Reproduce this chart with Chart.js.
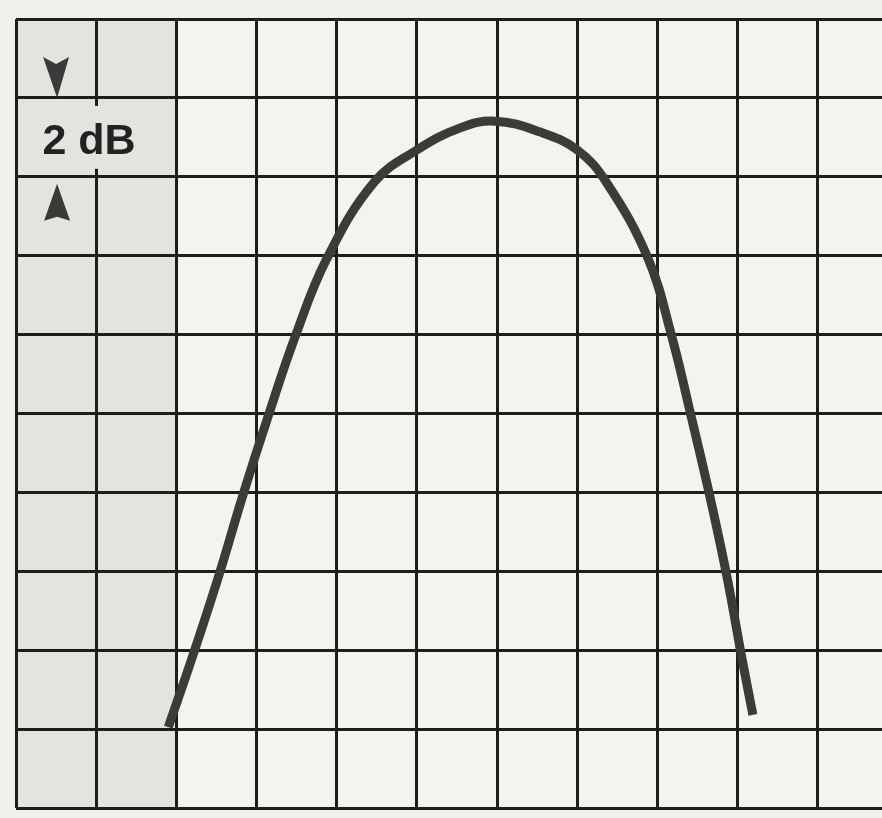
<!DOCTYPE html>
<html lang="en">
<head>
  <meta charset="UTF-8">
  <title>Response curve</title>
  <script src="https://cdn.jsdelivr.net/npm/chart.js"></script>
  <style>
    html, body { margin: 0; padding: 0; background: #f1f0ea; }
    #wrap { width: 882px; height: 818px; }
  </style>
</head>
<body>
  <div id="wrap"><canvas id="curve"></canvas></div>

  <script>
    // horizontal position in grid divisions, level in dB (2 dB per division)
    const posDiv = [1.90, 2.20, 2.52, 2.83, 3.13, 3.48, 3.88, 4.47, 5.00, 5.54, 5.97,
                    6.53, 7.00, 7.36, 7.88, 8.18, 8.43, 8.65, 8.87, 9.05, 9.19];
    const levelDb = [-17.95, -16.17, -14.17, -12.07, -10.16, -8.06, -6.06, -4.13, -3.32, -2.76, -2.59,
                     -2.86, -3.32, -4.13, -6.06, -8.06, -10.16, -12.07, -14.17, -16.17, -17.64];
    const stepLabel = '2 dB';

    const gridColor = '#1f1d1a';

    // paper shading + the "2 dB" marker
    const paper = {
      id: 'paper',
      beforeDraw(chart) {
        const { ctx, chartArea: a, scales: { x } } = chart;
        ctx.save();
        ctx.fillStyle = '#f4f3ee';
        ctx.fillRect(a.left, a.top, a.right - a.left, a.bottom - a.top);
        ctx.fillStyle = '#e3e3e0';
        ctx.fillRect(a.left, a.top, x.getPixelForValue(2) - a.left, a.bottom - a.top);
        ctx.restore();
      },
      afterDraw(chart) {
        const { ctx, scales: { x, y } } = chart;
        const cx = x.getPixelForValue(0.5);
        const yTop = y.getPixelForValue(-2);
        const yBot = y.getPixelForValue(-4);
        ctx.save();
        // knock out the grid behind the label
        ctx.fillStyle = '#e3e3e0';
        ctx.fillRect(x.getPixelForValue(0.3), yTop + 8, 116, yBot - yTop - 16);
        ctx.fillStyle = '#222';
        ctx.font = 'bold 43px "Liberation Sans", Arial, sans-serif';
        ctx.textBaseline = 'middle';
        ctx.fillText(stepLabel, x.getPixelForValue(0.33), (yTop + yBot) / 2 + 5);
        ctx.fillStyle = '#3b3a38';
        // down arrow
        ctx.beginPath();
        ctx.moveTo(cx - 13, yTop - 41);
        ctx.lineTo(cx, yTop - 34);
        ctx.lineTo(cx + 13, yTop - 41);
        ctx.lineTo(cx + 1, yTop);
        ctx.closePath();
        ctx.fill();
        // up arrow
        ctx.beginPath();
        ctx.moveTo(cx + 1, yBot + 7);
        ctx.lineTo(cx + 14, yBot + 44);
        ctx.lineTo(cx + 1, yBot + 40);
        ctx.lineTo(cx - 12, yBot + 44);
        ctx.closePath();
        ctx.fill();
        ctx.restore();
      }
    };

    new Chart(document.getElementById('curve'), {
      type: 'line',
      data: {
        datasets: [{
          data: posDiv.map((v, i) => ({ x: v, y: levelDb[i] })),
          borderColor: '#3d3b39',
          borderWidth: 9,
          borderCapStyle: 'butt',
          pointRadius: 0,
          fill: false,
          tension: 0.4
        }]
      },
      options: {
        responsive: true,
        maintainAspectRatio: false,
        animation: false,
        layout: { padding: { left: 16, top: 19, right: 0, bottom: 10 } },
        plugins: { legend: { display: false }, tooltip: { enabled: false } },
        scales: {
          x: {
            type: 'linear',
            min: 0,
            max: 10.8,
            ticks: { display: false, stepSize: 1, includeBounds: false },
            grid: { color: gridColor, lineWidth: 3, drawTicks: false },
            border: { display: false }
          },
          y: {
            min: -20,
            max: 0,
            ticks: { display: false, stepSize: 2 },
            grid: { color: gridColor, lineWidth: 3, drawTicks: false },
            border: { display: false }
          }
        }
      },
      plugins: [paper]
    });
  </script>
</body>
</html>
